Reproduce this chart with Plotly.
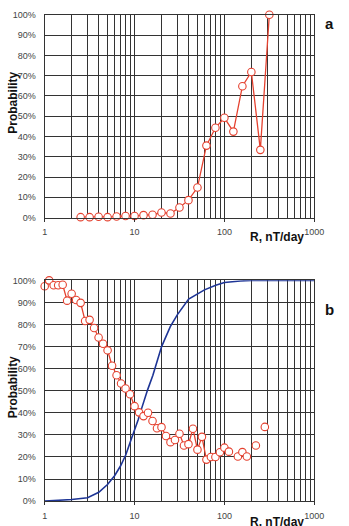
import plotly.graph_objects as go

# ---- data ----
top_r = [2.512, 3.162, 3.981, 5.012, 6.31, 7.943, 10, 12.59, 15.85, 19.95, 25.12,
         31.62, 39.81, 50.12, 63.1, 79.43, 100, 125.9, 158.5, 199.5, 251.2, 316.2]
top_p = [0.2, 0.2, 0.4, 0.2, 0.5, 0.8, 0.8, 1.2, 1.4, 2.5, 2.0,
         5.0, 8.6, 14.8, 35.5, 44.3, 49.2, 42.4, 64.8, 71.8, 33.4, 100]

bot_r = [1.0, 1.122, 1.259, 1.413, 1.585, 1.778, 1.995, 2.239, 2.512, 2.818, 3.162,
         3.548, 3.981, 4.467, 5.012, 5.623, 6.31, 7.079, 7.943, 8.913, 10,
         11.22, 12.59, 14.13, 15.85, 17.78, 19.95, 22.39, 25.12, 28.18, 31.62,
         35.48, 39.81, 44.67, 50.12, 56.23, 63.1, 70.79, 79.43, 89.13, 100,
         112.2, 125.9, 141.3, 158.5, 177.8, 199.5, 223.9, 251.2, 281.8]
bot_p = [97.3, 100, 97.8, 97.8, 98.0, 90.8, 93.9, 91.1, 89.8, 81.6, 82.1,
         78.4, 74.1, 71.3, 68.3, 61.3, 57.0, 53.3, 51.0, 48.4, 43.0,
         40.2, 38.5, 40.0, 36.3, 33.0, 33.5, 29.5, 26.7, 27.7, 30.5,
         25.2, 25.8, 32.8, 23.3, 29.1, 18.8, 20.0, 20.0, 22.1, 24.2,
         22.4, None, 20.2, 22.2, 20.2, None, 25.2, None, 33.6]

cdf_r = [1, 2, 3, 4, 5, 6, 7, 8, 9, 10, 11, 12, 13, 14, 16, 18, 20, 25, 30,
         40, 50, 60, 80, 100, 150, 200, 1000]
cdf_p = [0, 0.7, 1.5, 4, 7.5, 11.5, 16, 21, 27, 32, 37, 42, 46.5, 50.5, 57,
         64, 70, 79, 84.5, 91.5, 94, 95.7, 97.8, 99, 99.7, 100, 100]

x_major = [1, 10, 100, 1000]
x_major_text = ["1", "10", "100", "1000"]
y_ticks = [0, 10, 20, 30, 40, 50, 60, 70, 80, 90, 100]
y_tick_text = ["0%", "10%", "20%", "30%", "40%", "50%", "60%", "70%", "80%", "90%", "100%"]

RED = "#E5412F"
BLUE = "#1E3596"
GRID = "#333333"
W, H = 349, 526

minor_vals = [m * d for d in (1, 10, 100) for m in range(2, 10)]

fig = go.Figure()

marker = dict(symbol="circle", size=7.5, color="white", line=dict(color=RED, width=1.1))

fig.add_trace(go.Scatter(x=top_r, y=top_p, mode="lines+markers",
                         line=dict(color=RED, width=1.3), marker=marker,
                         cliponaxis=False, xaxis="x", yaxis="y", showlegend=False))
fig.add_trace(go.Scatter(x=cdf_r, y=cdf_p, mode="lines",
                         line=dict(color=BLUE, width=1.6),
                         xaxis="x2", yaxis="y2", showlegend=False))
fig.add_trace(go.Scatter(x=bot_r, y=bot_p, mode="lines+markers",
                         line=dict(color=RED, width=1.3), marker=marker,
                         connectgaps=False,
                         cliponaxis=False, xaxis="x2", yaxis="y2", showlegend=False))

x0, x1 = 43.3 / W, 323.3 / W
top_dom = [1 - 216.7 / H, 1 - 10 / H]
bot_dom = [1 - 505.7 / H, 1 - 280.7 / H]

tickfont = dict(family="Liberation Sans, Arial, sans-serif", size=9, color="#444")

def xaxis(anchor):
    return dict(type="log", range=[0, 3], domain=[x0, x1], anchor=anchor,
                tickvals=x_major, ticktext=x_major_text, tickfont=tickfont,
                ticks="outside", ticklen=3, tickcolor=GRID, tickwidth=1,
                showgrid=True, gridcolor=GRID, gridwidth=1.2,
                minor=dict(tickmode="array", tickvals=minor_vals, showgrid=True,
                           gridcolor=GRID, gridwidth=1.2, ticks=""),
                showline=True, linecolor=GRID, linewidth=1.2, mirror=True,
                zeroline=False, ticklabelstandoff=3, fixedrange=True)

def yaxis(anchor, dom):
    return dict(range=[0, 100], domain=dom, anchor=anchor,
                tickmode="array", tickvals=y_ticks, ticktext=y_tick_text,
                tickfont=tickfont,
                ticks="", showgrid=True, gridcolor=GRID, gridwidth=1.2,
                showline=True, linecolor=GRID, linewidth=1.2, mirror=True,
                zeroline=False, ticklabelstandoff=6, fixedrange=True)

fig.update_layout(
    width=W, height=H,
    margin=dict(l=0, r=0, t=0, b=0),
    paper_bgcolor="white", plot_bgcolor="white",
    xaxis=xaxis("y"), yaxis=yaxis("x", top_dom),
    xaxis2=xaxis("y2"), yaxis2=yaxis("x2", bot_dom),
)

title_font = dict(family="Liberation Sans, Arial, sans-serif", size=12, color="#111")
big_font = dict(family="Liberation Sans, Arial, sans-serif", size=15, color="#111")

def ann(text, px, py, font, angle=0):
    fig.add_annotation(text=text, x=px / W, y=1 - py / H, xref="paper", yref="paper",
                       showarrow=False, font=font, textangle=angle,
                       xanchor="center", yanchor="middle")

ann("<b>Probability</b>", 10, 100, title_font, -90)
ann("<b>Probability</b>", 10, 390, title_font, -90)
ann("<b>R, nT/day</b>", 285, 237, title_font)
ann("<b>R, nT/day</b>", 285, 527, title_font)
ann("<b>a</b>", 339, 19, big_font)
ann("<b>b</b>", 339, 310, big_font)

fig.write_html("out.html")
